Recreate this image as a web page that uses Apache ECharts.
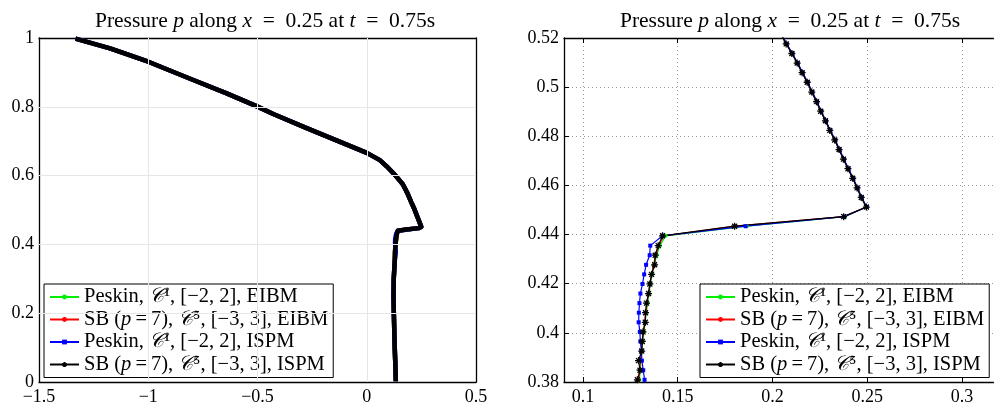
<!DOCTYPE html>
<html><head><meta charset="utf-8">
<script src="https://cdn.jsdelivr.net/npm/echarts@6/dist/echarts.min.js"></script>
<style>html,body{margin:0;padding:0;background:#fff}#c{width:994px;height:408px}</style>
</head><body><div id="c"></div>
<script>
// ---- data (pressure p vs. vertical coordinate y) ----
// detailed points (zoomed window), y cell centres
const yDetail = [0.3770,0.3809,0.3848,0.3887,0.3926,0.3965,0.4004,0.4043,0.4082,0.4121,0.4160,0.4199,0.4238,0.4277,0.4316,0.4355,0.4395,0.4434,0.4473,0.4512,0.4551,0.4590,0.4629,0.4668,0.4707,0.4746,0.4785,0.4824,0.4863,0.4902,0.4941,0.4980,0.5020,0.5059,0.5098,0.5137,0.5176,0.5215];
const pPeskinEIBM = [0.1296,0.1298,0.1302,0.1306,0.1311,0.1316,0.1322,0.1328,0.1334,0.1341,0.1348,0.1356,0.1365,0.1376,0.1389,0.1406,0.1436,0.1864,0.2382,0.2494,0.2468,0.2446,0.2424,0.2399,0.2375,0.2352,0.2328,0.2303,0.2280,0.2255,0.2232,0.2208,0.2184,0.2157,0.2131,0.2103,0.2073,0.2045];
const pSBEIBM = [0.1293,0.1295,0.1299,0.1303,0.1308,0.1313,0.1319,0.1325,0.1331,0.1338,0.1345,0.1353,0.1362,0.1372,0.1384,0.1400,0.1425,0.1805,0.2376,0.2495,0.2469,0.2446,0.2423,0.2399,0.2375,0.2351,0.2328,0.2303,0.2279,0.2255,0.2232,0.2207,0.2183,0.2157,0.2130,0.2102,0.2073,0.2044];
const pPeskinISPM = [0.1330,0.1325,0.1318,0.1311,0.1308,0.1303,0.1300,0.1294,0.1295,0.1298,0.1303,0.1314,0.1323,0.1333,0.1352,0.1355,0.1420,0.1858,0.2378,0.2497,0.2471,0.2449,0.2426,0.2401,0.2377,0.2354,0.2331,0.2305,0.2282,0.2257,0.2235,0.2210,0.2186,0.2159,0.2133,0.2105,0.2075,0.2047];
const pSBISPM = [0.1290,0.1287,0.1301,0.1293,0.1310,0.1313,0.1317,0.1329,0.1330,0.1335,0.1346,0.1353,0.1362,0.1378,0.1381,0.1397,0.1420,0.1800,0.2375,0.2495,0.2468,0.2446,0.2423,0.2398,0.2374,0.2351,0.2328,0.2302,0.2279,0.2254,0.2232,0.2207,0.2183,0.2156,0.2130,0.2102,0.2072,0.2044];
// overview points outside the zoom window (curves coincide there)
const lowerY = [0.002,0.050,0.100,0.150,0.200,0.250,0.300,0.350];
const lowerP = [0.133,0.131,0.128,0.126,0.124,0.1225,0.1235,0.128];
const upperY = [0.549,0.575,0.600,0.627,0.645,0.666,0.698,0.738,0.779,0.802,0.839,0.878,0.931,0.970,0.998];
const upperP = [0.186,0.165,0.132,0.091,0.060,0.000,-0.122,-0.275,-0.428,-0.505,-0.641,-0.794,-1.000,-1.175,-1.333];
// ticks
const xTicksL = [-1.5,-1,-0.5,0,0.5];
const yTicksL = [0,0.2,0.4,0.6,0.8,1];
const xTicksR = [0.1,0.15,0.2,0.25,0.3];
const yTicksR = [0.38,0.4,0.42,0.44,0.46,0.48,0.5,0.52];

const seriesNames = ['Peskin C1 [-2,2] EIBM','SB p7 C5 [-3,3] EIBM','Peskin C1 [-2,2] ISPM','SB p7 C5 [-3,3] ISPM'];
const seriesP = [pPeskinEIBM, pSBEIBM, pPeskinISPM, pSBISPM];
const legendText = {
  'Peskin C1 [-2,2] EIBM': '{r|Peskin, }{c|𝒞}{r|¹, [−2, 2], EIBM}',
  'SB p7 C5 [-3,3] EIBM': '{r|SB (}{i|p}{r|\u2009=\u20097), }{c|𝒞}{r|⁵, [−3, 3], EIBM}',
  'Peskin C1 [-2,2] ISPM': '{r|Peskin, }{c|𝒞}{r|¹, [−2, 2], ISPM}',
  'SB p7 C5 [-3,3] ISPM': '{r|SB (}{i|p}{r|\u2009=\u20097), }{c|𝒞}{r|⁵, [−3, 3], ISPM}'
};
const colors = ['#00ee00','#ff0000','#0000ff','#000000'];
const STAR = 'path://M5,0L5,10M0,5L10,5M1.46,1.46L8.54,8.54M1.46,8.54L8.54,1.46';
const symbols = ['circle','circle','rect',STAR];
const symSizes = [4,2.5,4,7];

const FONT = 'Liberation Serif';
const FS = 18, TFS = 21.5, LFS = 20.5;

function detailPairs(p){ return yDetail.map((y,i)=>[p[i], y]); }
function fullPairs(p){
  const lo = lowerY.map((y,i)=>[lowerP[i], y]);
  const up = upperY.map((y,i)=>[upperP[i], y]);
  return lo.concat(detailPairs(p), up);
}
const minus = v => String(v).replace('-', '\u2212');

const gridLine = {show:true, lineStyle:{color:'#999', width:1, type:[1,3]}};
const axLine = {show:true, onZero:false, lineStyle:{color:'#000', width:1.3}};
const tick = {show:true, inside:true, length:5, lineStyle:{color:'#000', width:1}};
const lab = {color:'#000', fontFamily:FONT, fontSize:FS};

// faint solid guide under the left panel's dotted grid lines (at tick values)
const leftGuides = {
  silent:true, symbol:['none','none'], animation:false, label:{show:false},
  lineStyle:{color:'#e6e6e6', width:1, type:'solid'}, emphasis:{disabled:true},
  data: xTicksL.slice(1,-1).map(v=>({xAxis:v})).concat(yTicksL.slice(1,-1).map(v=>({yAxis:v})))
};

const series = [];
for (let i=0;i<4;i++){
  series.push({
    name: seriesNames[i], type:'line', xAxisIndex:2, yAxisIndex:2,
    data: detailPairs(seriesP[i]), symbol: symbols[i], symbolSize: symSizes[i],
    showSymbol:true, lineStyle:{color:colors[i], width:1.2},
    itemStyle: i===3 ? {color:'#000', borderColor:'#000', borderWidth:1.3} : {color:colors[i], borderWidth:0},
    emphasis:{disabled:true}, animation:false, clip:true
  });
}
for (let i=0;i<4;i++){
  const s = {
    name: seriesNames[i], type:'line', xAxisIndex:0, yAxisIndex:0,
    data: fullPairs(seriesP[i]), showSymbol:false, symbol:'none',
    lineStyle:{color:colors[i], width:4.5, join:'round'},
    emphasis:{disabled:true}, animation:false, clip:true
  };
  if (i===0) s.markLine = leftGuides;
  series.push(s);
}
const richL = {
  r:{fontFamily:FONT, fontSize:LFS, lineHeight:22, color:'#000'},
  i:{fontFamily:FONT, fontSize:LFS, lineHeight:22, fontStyle:'italic', color:'#000'},
  c:{fontFamily:FONT, fontSize:LFS, lineHeight:22, fontStyle:'italic', color:'#000'}
};
function legendCfg(left){
  return {
    left:left, top:284, orient:'vertical', data:seriesNames.slice(),
    backgroundColor:'#fff', borderColor:'#000', borderWidth:1, borderRadius:0,
    padding:[2,5,2,5], itemGap:0.5, itemWidth:29, itemHeight:6,
    selectedMode:false,
    formatter: n => legendText[n],
    textStyle:{fontFamily:FONT, fontSize:LFS, lineHeight:22, color:'#000', rich:richL}
  };
}
const titleRich = {i:{fontFamily:FONT, fontSize:TFS, fontStyle:'italic', color:'#000'}};
const titleText = 'Pressure {i|p} along {i|x}\u2002=\u20020.25 at {i|t}\u2002=\u20020.75s';

const option = {
  backgroundColor:'#fff',
  animation:false,
  title:[
    {text:titleText, left:260, top:5, textAlign:'center', textStyle:{fontFamily:FONT, fontSize:TFS, fontWeight:'normal', color:'#000', rich:titleRich}},
    {text:titleText, left:785, top:5, textAlign:'center', textStyle:{fontFamily:FONT, fontSize:TFS, fontWeight:'normal', color:'#000', rich:titleRich}}
  ],
  grid:[
    {left:39, top:38, width:437, height:344, outerBoundsMode:'none'},
    {left:564, top:38, width:436, height:344, outerBoundsMode:'none'}
  ],
  xAxis:[
    {gridIndex:0, type:'value', position:'bottom', min:xTicksL[0], max:xTicksL[xTicksL.length-1], interval:0.5,
     axisLine:axLine, axisTick:tick, splitLine:gridLine,
     axisLabel:Object.assign({margin:6, formatter:minus, customValues:xTicksL}, lab)},
    {gridIndex:0, type:'value', position:'top', min:xTicksL[0], max:xTicksL[xTicksL.length-1], interval:0.5,
     axisLine:axLine, axisTick:tick, splitLine:{show:false}, axisLabel:{show:false}},
    {gridIndex:1, type:'value', position:'bottom', min:0.09, max:0.32,
     axisLine:axLine, axisTick:Object.assign({customValues:xTicksR}, tick), splitLine:gridLine,
     axisLabel:Object.assign({margin:6, customValues:xTicksR}, lab)},
    {gridIndex:1, type:'value', position:'top', min:0.09, max:0.32,
     axisLine:axLine, axisTick:Object.assign({customValues:xTicksR}, tick), splitLine:{show:false}, axisLabel:{show:false}}
  ],
  yAxis:[
    {gridIndex:0, type:'value', position:'left', min:yTicksL[0], max:yTicksL[yTicksL.length-1], interval:0.2,
     axisLine:axLine, axisTick:tick, splitLine:gridLine, axisLabel:Object.assign({margin:5}, lab)},
    {gridIndex:0, type:'value', position:'right', min:yTicksL[0], max:yTicksL[yTicksL.length-1], interval:0.2,
     axisLine:axLine, axisTick:tick, splitLine:{show:false}, axisLabel:{show:false}},
    {gridIndex:1, type:'value', position:'left', min:yTicksR[0], max:yTicksR[yTicksR.length-1], interval:0.02,
     axisLine:axLine, axisTick:tick, splitLine:gridLine, axisLabel:Object.assign({margin:5}, lab)},
    {gridIndex:1, type:'value', position:'right', min:yTicksR[0], max:yTicksR[yTicksR.length-1], interval:0.02,
     axisLine:axLine, axisTick:tick, splitLine:{show:false}, axisLabel:{show:false}}
  ],
  legend:[legendCfg(44), legendCfg(700)],
  series: series
};
const chart = echarts.init(document.getElementById('c'), null, {renderer:'canvas'});
chart.setOption(option);
</script></body></html>
